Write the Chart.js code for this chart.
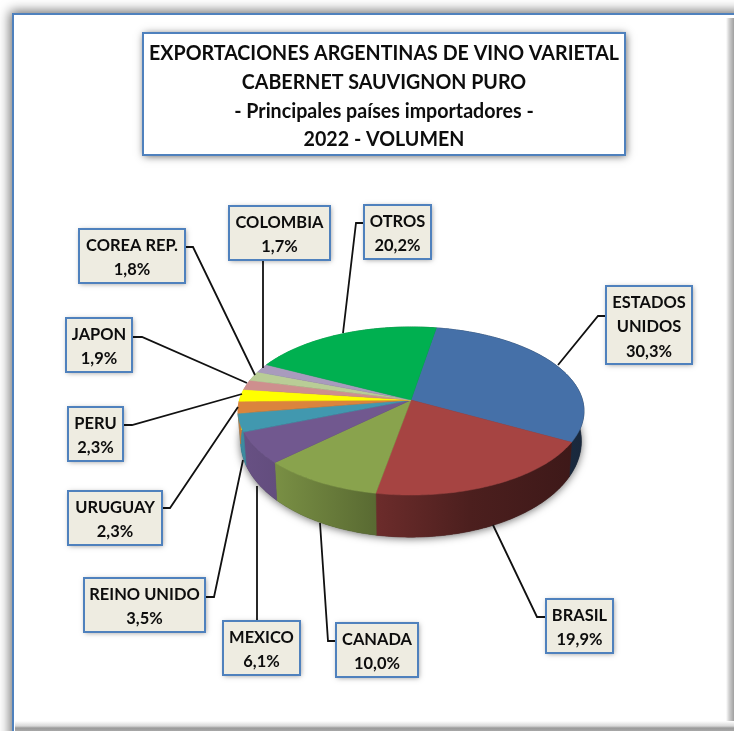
<!DOCTYPE html>
<html lang="es">
<head>
<meta charset="utf-8">
<title>Exportaciones de vino varietal</title>
<script src="https://cdn.jsdelivr.net/npm/chart.js@4"></script>
<style>
html, body { margin: 0; padding: 0; background: #fff; overflow: hidden; }
#hoja { position: relative; width: 734px; height: 731px; overflow: hidden; }
#marco { position: absolute; left: 12px; top: 13px; width: 800px; height: 800px; box-sizing: border-box;
    border: 2.5px solid #4f81bd; background: #fff; box-shadow: 0 0 11px 2px #6f6f6f; }
#sombraDer { position: absolute; left: 726px; top: 18px; width: 8px; height: 713px;
    background: linear-gradient(to right, #fff, #d0d0d0 40%, #a0a0a0); }
#sombraInf { position: absolute; left: 15px; top: 721px; width: 719px; height: 10px;
    background: linear-gradient(to bottom, #fff, #d8d8d8 50%, #9a9a9a 70%, #a8a8a8); }
#contenedor { position: absolute; left: 0; top: 0; width: 734px; height: 731px; }
</style>
</head>
<body>
<div id="hoja">
    <div id="marco"></div>
    <div id="sombraDer"></div>
    <div id="sombraInf"></div>
    <div id="contenedor"><canvas id="torta"></canvas></div>
</div>
<script>
const tituloLineas = [
    "EXPORTACIONES ARGENTINAS DE VINO VARIETAL",
    "CABERNET SAUVIGNON PURO",
    "- Principales países importadores -",
    "2022 - VOLUMEN"
];
const categorias = [
    ["ESTADOS", "UNIDOS"], "BRASIL", "CANADA", "MEXICO", "REINO UNIDO", "URUGUAY",
    "PERU", "JAPON", "COREA REP.", "COLOMBIA", "OTROS"
];
const valores = [30.3, 19.9, 10.0, 6.1, 3.5, 2.3, 2.3, 1.9, 1.8, 1.7, 20.2];
const colores = [
    "#4570a8", "#a64442", "#89a34d", "#71588f", "#4198af", "#db843d",
    "#ffff00", "#ce8f8e", "#b9cd96", "#a99bbd", "#00b050"
];

// cajas de etiqueta: izquierda, arriba, derecha, abajo
const cajas = [
    [606, 286, 692, 364], [546, 599, 613, 653], [336, 623, 418, 677], [223, 621, 300, 675],
    [84, 578, 205, 632], [68, 491, 162, 545], [68, 407, 123, 461], [66, 318, 132, 372],
    [79, 229, 185, 283], [229, 206, 330, 260], [364, 205, 431, 259]
];
// lineas guia de cada etiqueta
const guias = [
    [[606, 316], [598, 316], [558, 365]],
    [[546, 617], [537, 617], [493, 525]],
    [[336, 641], [328, 641], [320, 523]],
    [[257, 621], [257, 486]],
    [[205, 597], [214, 597], [243, 460]],
    [[162, 508], [170, 508], [238, 407]],
    [[123, 425], [132, 425], [242, 394]],
    [[132, 337], [142, 337], [247, 383]],
    [[185, 247], [193, 247], [255, 375]],
    [[263, 260], [263, 368]],
    [[364, 223], [356, 223], [343, 333]]
];

const INCLINACION = 0.4816;
const PERSPECTIVA = 0.131;
const FUENTE = "Lato, sans-serif";

function tapa(arco, a) {
    const w = 1 - PERSPECTIVA * Math.sin(a);
    return [arco.x + arco.outerRadius * Math.cos(a) / w,
            arco.y + arco.outerRadius * INCLINACION * Math.sin(a) / w];
}

function base(arco, a) {
    const w = 1 - PERSPECTIVA * Math.sin(a);
    return [arco.x + arco.outerRadius * 0.985 * Math.cos(a) / w,
            arco.y + 28.6 + arco.outerRadius * 0.55 * Math.sin(a) / w];
}

function oscurecer(hex, f) {
    const n = parseInt(hex.slice(1), 16);
    return "rgb(" + Math.round((n >> 16) * f) + "," + Math.round(((n >> 8) & 255) * f) + "," + Math.round((n & 255) * f) + ")";
}

function recorrer(ctx, arco, fn, inv) {
    const pasos = Math.max(2, Math.ceil((arco.endAngle - arco.startAngle) / 0.015));
    for (let i = 0; i <= pasos; i++) {
        const t = inv ? 1 - i / pasos : i / pasos;
        const p = fn(arco, arco.startAngle + (arco.endAngle - arco.startAngle) * t);
        ctx.lineTo(p[0], p[1]);
    }
}

// la fuente queda algo mas ancha que la original, se angosta un poco
function texto(ctx, t, x, y, ancho) {
    ctx.save();
    ctx.translate(x, y);
    ctx.scale(ancho, 1);
    ctx.fillText(t, 0, 0);
    ctx.restore();
}

const torta3d = {
    id: "torta3d",
    beforeDatasetsDraw(chart) {
        const ctx = chart.ctx;
        const arcos = chart.getDatasetMeta(0).data;

        // sombra bajo la torta
        ctx.save();
        ctx.shadowColor = "rgba(0,0,0,0.6)";
        ctx.shadowBlur = 9;
        ctx.shadowOffsetY = 1;
        ctx.fillStyle = "#333";
        ctx.beginPath();
        arcos.forEach(a => recorrer(ctx, a, base));
        ctx.closePath();
        ctx.fill();
        ctx.restore();

        // paredes
        arcos.forEach((a, i) => {
            const g = ctx.createLinearGradient(a.x - 173, 0, a.x + 173, 0);
            [[0, 0.92], [0.11, 0.88], [0.4, 0.65], [0.67, 0.46], [1, 0.36]].forEach(s => {
                g.addColorStop(s[0], oscurecer(colores[i], s[1]));
            });
            ctx.fillStyle = g;
            ctx.strokeStyle = g;
            ctx.lineWidth = 0.6;
            ctx.beginPath();
            recorrer(ctx, a, tapa);
            recorrer(ctx, a, base, true);
            ctx.closePath();
            ctx.fill();
            ctx.stroke();
        });

        // tapa
        arcos.forEach((a, i) => {
            ctx.fillStyle = colores[i];
            ctx.strokeStyle = colores[i];
            ctx.lineWidth = 0.5;
            ctx.beginPath();
            ctx.moveTo(a.x, a.y);
            recorrer(ctx, a, tapa);
            ctx.closePath();
            ctx.fill();
            ctx.stroke();
        });

        return false;
    },
    afterDraw(chart) {
        const ctx = chart.ctx;

        ctx.strokeStyle = "#111";
        ctx.lineWidth = 1.8;
        guias.forEach(g => {
            ctx.beginPath();
            g.forEach(p => ctx.lineTo(p[0], p[1]));
            ctx.stroke();
        });

        caja(ctx, [143, 33, 625, 155], "#fff", "rgba(0,0,0,0.65)", 8);
        ctx.fillStyle = "#0d0d0d";
        ctx.textAlign = "center";
        ctx.textBaseline = "middle";
        ctx.font = "bold 21px " + FUENTE;
        tituloLineas.forEach((t, i) => texto(ctx, t, 384, 53.5 + i * 28.7, 0.935));

        cajas.forEach((c, i) => {
            caja(ctx, c, "#eeece1", "rgba(0,0,0,0.4)", 5);
            const lineas = [].concat(categorias[i], valores[i].toFixed(1).replace(".", ",") + "%");
            const cy = (c[1] + c[3]) / 2 + 1.5;
            ctx.fillStyle = "#0d0d0d";
            ctx.font = "bold 17.5px " + FUENTE;
            lineas.forEach((t, k) => {
                texto(ctx, t, (c[0] + c[2]) / 2, cy + (k - (lineas.length - 1) / 2) * 24.5, 0.94);
            });
        });
    }
};

function caja(ctx, c, fondo, sombra, blur) {
    ctx.save();
    ctx.shadowColor = sombra;
    ctx.shadowBlur = blur;
    ctx.shadowOffsetX = 1;
    ctx.shadowOffsetY = 1;
    ctx.fillStyle = fondo;
    ctx.fillRect(c[0], c[1], c[2] - c[0], c[3] - c[1]);
    ctx.restore();
    ctx.strokeStyle = "#4f81bd";
    ctx.lineWidth = 2;
    ctx.strokeRect(c[0], c[1], c[2] - c[0], c[3] - c[1]);
}

new Chart(document.getElementById("torta"), {
    type: "pie",
    data: {
        labels: categorias,
        datasets: [{
            data: valores,
            backgroundColor: colores,
            borderWidth: 0
        }]
    },
    options: {
        responsive: true,
        maintainAspectRatio: false,
        animation: false,
        rotation: 9.6,
        layout: { padding: { left: 239.5, right: 151.5, top: 228.5, bottom: 159.5 } },
        plugins: {
            legend: { display: false },
            tooltip: { enabled: false }
        }
    },
    plugins: [torta3d]
});
</script>
</body>
</html>
